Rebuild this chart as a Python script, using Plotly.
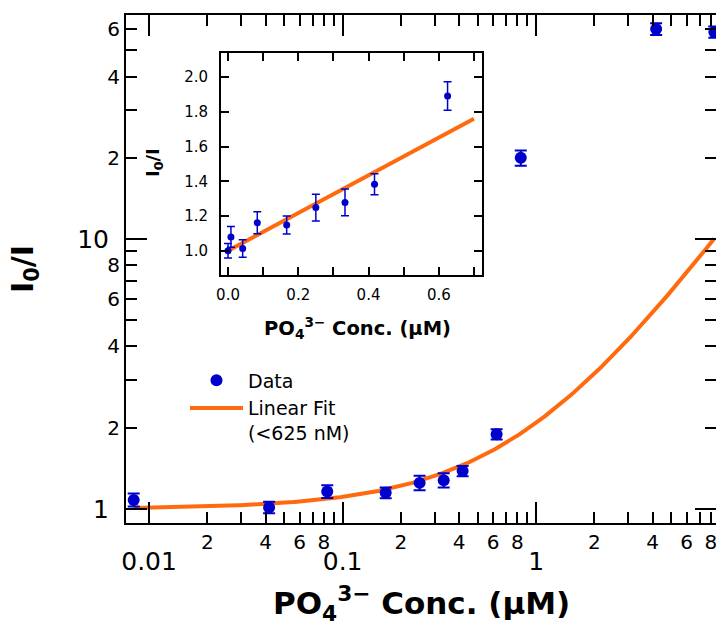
import numpy as np
import plotly.graph_objects as go

# ---------------- data ----------------
conc_uM = [0.0, 0.00833, 0.0417, 0.0833, 0.167, 0.25, 0.333, 0.417, 0.625, 0.833, 4.17, 8.33]
ratio = [1.0, 1.08, 1.013, 1.161, 1.148, 1.249, 1.278, 1.383, 1.891, 20.0, 60.0, 58.5]
ratio_err = [0.042, 0.06, 0.05, 0.063, 0.052, 0.077, 0.077, 0.06, 0.082, 1.3, 3.0, 2.8]

fit_intercept = 1.0
fit_slope = 1.086
fit_main_range = [0.00833, 8.33]
fit_inset_range = [0.0, 0.7]

x_major_vals = [0.01, 0.1, 1]
x_major_text = ["0.01", "0.1", "1"]
y_major_vals = [1, 10]
y_major_text = ["1", "10"]
minor_label_mult = [2, 4, 6, 8]
minor_plain_mult = [3, 5, 7, 9]

BLUE = "#0000CC"
ORANGE = "#FF6A0E"
FONT = "DejaVu Sans, sans-serif"

# ---------------- derived ----------------
x_lab_vals = [m * d for d in (0.01, 0.1, 1) for m in minor_label_mult]
x_lab_text = [str(m) for d in (0.01, 0.1, 1) for m in minor_label_mult]
x_plain_vals = [m * d for d in (0.01, 0.1, 1) for m in minor_plain_mult]
y_lab_vals = [2, 4, 6, 8, 20, 40, 60]
y_lab_text = ["2", "4", "6", "8", "2", "4", "6"]
y_plain_vals = [3, 5, 7, 9, 30, 50]

main_x = [c for c in conc_uM if c > 0]
main_y = [r for c, r in zip(conc_uM, ratio) if c > 0]
main_e = [e for c, e in zip(conc_uM, ratio_err) if c > 0]

ins_x = [c for c in conc_uM if c < 0.7]
ins_y = [r for c, r in zip(conc_uM, ratio) if c < 0.7]
ins_e = [e for c, e in zip(conc_uM, ratio_err) if c < 0.7]

fx_main = np.geomspace(fit_main_range[0], fit_main_range[1], 300)
fy_main = fit_intercept + fit_slope * fx_main
fx_ins = np.array(fit_inset_range)
fy_ins = fit_intercept + fit_slope * fx_ins

fig = go.Figure()

fig.add_trace(go.Scatter(
    x=fx_main, y=fy_main, mode="lines", name="Linear Fit<br>(&lt;625 nM)",
    line=dict(color=ORANGE, width=4), xaxis="x", yaxis="y"))
fig.add_trace(go.Scatter(
    x=main_x, y=main_y, mode="markers", name="Data",
    marker=dict(color=BLUE, size=12),
    error_y=dict(type="data", array=main_e, color=BLUE, thickness=2, width=6),
    xaxis="x", yaxis="y"))

# invisible carriers so the overlaying major-tick axes get drawn
fig.add_trace(go.Scatter(x=main_x[:1], y=main_y[:1], mode="markers",
                         marker=dict(opacity=0), showlegend=False,
                         hoverinfo="skip", xaxis="x2", yaxis="y"))
fig.add_trace(go.Scatter(x=main_x[:1], y=main_y[:1], mode="markers",
                         marker=dict(opacity=0), showlegend=False,
                         hoverinfo="skip", xaxis="x", yaxis="y2"))

# inset
fig.add_trace(go.Scatter(
    x=fx_ins, y=fy_ins, mode="lines", showlegend=False,
    line=dict(color=ORANGE, width=4), xaxis="x3", yaxis="y3"))
fig.add_trace(go.Scatter(
    x=ins_x, y=ins_y, mode="markers", showlegend=False,
    marker=dict(color=BLUE, size=7),
    error_y=dict(type="data", array=ins_e, color=BLUE, thickness=1.5, width=4),
    xaxis="x3", yaxis="y3"))

xr = [np.log10(0.0076), np.log10(8.5)]
yr = [np.log10(0.887), np.log10(67.6)]

common = dict(showgrid=False, zeroline=False, showline=True, linecolor="black",
              linewidth=2, tickcolor="black", tickwidth=2, ticks="inside",
              mirror="ticks", automargin=False, ticklabeloverflow="allow")

fig.update_layout(
    width=716, height=633,
    margin=dict(l=126, r=0, t=15, b=110),
    paper_bgcolor="white", plot_bgcolor="white",
    font=dict(family=FONT, color="black"),
    showlegend=True,
    legend=dict(x=0.1, y=0.318, xanchor="left", yanchor="top",
                bgcolor="rgba(0,0,0,0)", font=dict(size=19, family=FONT),
                valign="top", tracegroupgap=0, traceorder="reversed",
                itemwidth=53),
    xaxis=dict(type="log", range=xr, tickvals=x_lab_vals, ticktext=x_lab_text,
               ticklen=11, tickfont=dict(size=20), anchor="y",
               minor=dict(tickvals=x_plain_vals, ticklen=11, ticks="inside",
                          tickcolor="black", tickwidth=2),
               **common),
    xaxis2=dict(type="log", range=xr, tickvals=x_major_vals, ticktext=x_major_text,
                ticklen=21, tickfont=dict(size=25), overlaying="x", anchor="y",
                side="bottom", ticklabelstandoff=15, **common),
    yaxis=dict(type="log", range=yr, tickvals=y_lab_vals, ticktext=y_lab_text,
               ticklen=11, tickfont=dict(size=20), anchor="x",
               minor=dict(tickvals=y_plain_vals, ticklen=11, ticks="inside",
                          tickcolor="black", tickwidth=2),
               **common),
    yaxis2=dict(type="log", range=yr, tickvals=y_major_vals, ticktext=y_major_text,
                ticklen=21, tickfont=dict(size=25), overlaying="y", anchor="x",
                side="left", ticklabelstandoff=10, **common),
    xaxis3=dict(domain=[0.161, 0.604], anchor="y3", range=[-0.02, 0.724],
                tickvals=[0, 0.2, 0.4, 0.6], tickformat=".1f", ticklen=8,
                tickfont=dict(size=15), ticklabelstandoff=5,
                minor=dict(tickvals=[0.1, 0.3, 0.5, 0.7], ticklen=8, ticks="inside",
                           tickcolor="black", tickwidth=2),
                **common),
    yaxis3=dict(domain=[0.488, 0.925], anchor="x3", range=[0.86, 2.138],
                tickvals=[1.0, 1.2, 1.4, 1.6, 1.8, 2.0], tickformat=".1f", ticklen=8,
                tickfont=dict(size=15), ticklabelstandoff=8, **common),
    annotations=[
        dict(text="<b>I<sub>0</sub>/I</b>", xref="paper", yref="paper",
             x=-(126 - 24) / 590.0, y=(523 - 269) / 508.0, textangle=-90,
             showarrow=False, font=dict(size=30, family=FONT),
             xanchor="center", yanchor="middle"),
        dict(text="<b>PO<sub>4</sub><sup>3\u2212</sup> Conc. (\u00b5M)</b>",
             xref="paper", yref="paper", x=(421 - 126) / 590.0, y=-(603 - 523) / 508.0,
             showarrow=False, font=dict(size=31, family=FONT),
             xanchor="center", yanchor="middle"),
        dict(text="<b>I<sub>0</sub>/I</b>", xref="paper", yref="paper",
             x=(154 - 126) / 590.0, y=(523 - 163) / 508.0, textangle=-90,
             showarrow=False, font=dict(size=18, family=FONT),
             xanchor="center", yanchor="middle"),
        dict(text="<b>PO<sub>4</sub><sup>3\u2212</sup> Conc. (\u00b5M)</b>",
             xref="paper", yref="paper", x=(357 - 126) / 590.0, y=(523 - 328) / 508.0,
             showarrow=False, font=dict(size=19.5, family=FONT),
             xanchor="center", yanchor="middle"),
    ],
)

fig.write_html("out.html", config={"displayModeBar": False},
               post_script="document.body.style.margin='0px';")
